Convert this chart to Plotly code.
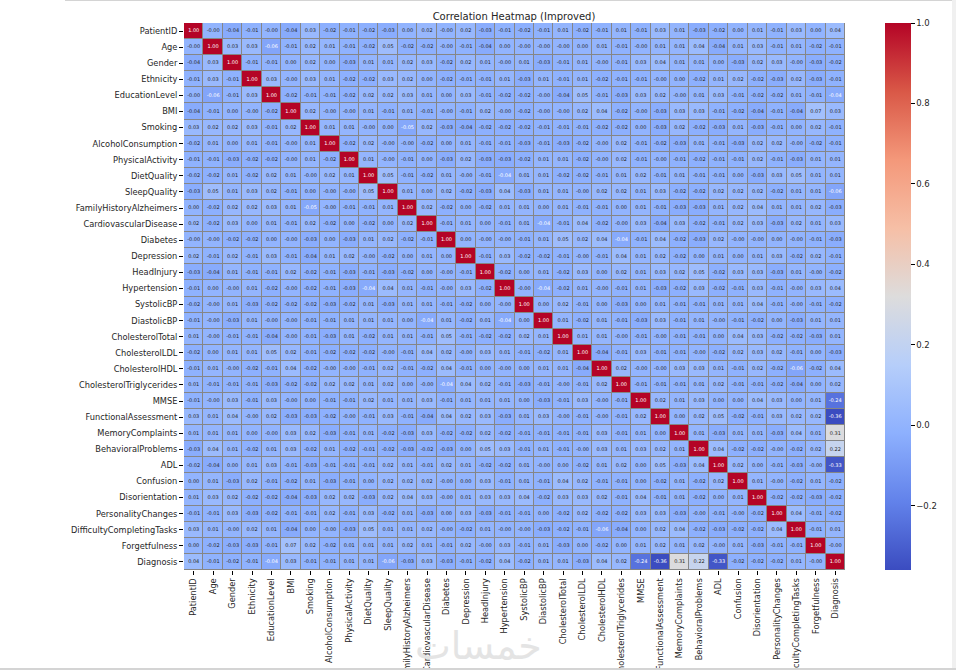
import plotly.graph_objects as go

labels = ["PatientID", "Age", "Gender", "Ethnicity", "EducationLevel", "BMI", "Smoking",
          "AlcoholConsumption", "PhysicalActivity", "DietQuality", "SleepQuality",
          "FamilyHistoryAlzheimers", "CardiovascularDisease", "Diabetes", "Depression",
          "HeadInjury", "Hypertension", "SystolicBP", "DiastolicBP", "CholesterolTotal",
          "CholesterolLDL", "CholesterolHDL", "CholesterolTriglycerides", "MMSE",
          "FunctionalAssessment", "MemoryComplaints", "BehavioralProblems", "ADL", "Confusion",
          "Disorientation", "PersonalityChanges", "DifficultyCompletingTasks", "Forgetfulness",
          "Diagnosis"]

# Upper triangle of the correlation matrix: each row starts on its diagonal cell
r00 = [1.00,-0.00,-0.04,-0.01,-0.00,-0.04,0.03,-0.02,-0.01,-0.02,-0.03,0.00,0.02,-0.00,0.02,-0.03,-0.01,-0.02,-0.01,0.01,-0.02,-0.01,0.01,-0.01,0.03,0.01,-0.03,-0.02,0.00,0.01,-0.01,0.03,0.00,0.04]
r01 = [1.00,0.03,0.03,-0.06,-0.01,0.02,0.01,-0.01,-0.02,0.05,-0.02,-0.02,-0.00,-0.01,-0.04,0.00,-0.00,-0.00,-0.00,0.00,0.01,-0.01,-0.00,0.01,0.01,0.04,-0.04,0.01,0.03,-0.01,0.01,-0.02,-0.01]
r02 = [1.00,-0.01,-0.01,0.00,0.02,0.00,-0.03,0.01,0.01,0.02,0.03,-0.02,0.02,0.01,-0.00,0.01,-0.03,-0.01,0.01,-0.00,-0.01,0.03,0.04,0.01,0.01,0.00,-0.03,0.02,0.03,-0.00,-0.03,-0.02]
r03 = [1.00,0.03,-0.00,0.03,0.01,-0.02,-0.02,0.03,0.02,0.00,-0.02,-0.01,-0.01,0.01,-0.03,0.01,-0.01,0.01,-0.02,-0.01,-0.01,-0.00,0.00,-0.02,0.01,0.02,-0.02,-0.03,0.02,-0.03,-0.01]
r04 = [1.00,-0.02,-0.01,-0.01,-0.02,0.02,0.02,0.03,0.01,0.00,0.03,-0.01,-0.02,-0.02,-0.00,-0.04,0.05,-0.01,-0.03,0.03,0.02,-0.00,0.01,0.03,-0.01,-0.02,-0.02,0.01,-0.01,-0.044]
r05 = [1.00,0.02,-0.00,-0.00,0.01,-0.01,0.01,-0.01,-0.00,-0.01,0.02,-0.00,-0.02,-0.00,-0.00,0.02,0.04,-0.02,-0.00,-0.03,0.03,0.03,-0.01,-0.02,-0.04,-0.01,-0.04,0.07,0.03]
r06 = [1.00,0.01,0.01,-0.00,0.00,-0.05,0.02,-0.03,-0.04,-0.02,-0.02,-0.02,-0.01,-0.01,-0.01,-0.02,-0.02,0.00,-0.03,0.02,-0.02,-0.03,0.01,-0.03,-0.01,0.00,0.02,-0.01]
r07 = [1.00,-0.02,0.02,-0.00,-0.00,-0.02,0.00,0.01,-0.01,-0.01,-0.03,-0.01,-0.03,-0.02,-0.00,0.02,-0.01,-0.02,-0.03,0.01,-0.01,-0.03,0.02,0.02,-0.00,-0.02,-0.01]
r08 = [1.00,0.01,-0.00,-0.01,0.00,-0.03,0.02,-0.03,-0.03,-0.02,0.01,0.01,-0.02,-0.00,0.02,-0.01,-0.00,-0.01,-0.02,-0.01,-0.01,0.02,-0.01,-0.03,0.01,0.01]
r09 = [1.00,0.05,-0.01,-0.02,0.01,-0.00,-0.01,-0.044,0.01,0.01,-0.02,-0.02,-0.01,0.01,0.02,-0.01,0.01,-0.01,-0.01,0.00,-0.03,0.03,0.05,0.01,0.01]
r10 = [1.00,0.01,0.00,0.02,-0.02,-0.03,0.04,-0.03,0.01,0.01,-0.00,0.02,0.02,0.01,0.03,-0.02,-0.02,0.02,0.02,0.02,-0.02,0.01,0.01,-0.06]
r11 = [1.00,0.02,-0.02,0.00,-0.02,0.01,0.01,0.00,0.01,-0.01,-0.01,0.00,0.01,-0.01,-0.03,-0.03,0.01,0.02,0.04,0.01,0.01,0.02,-0.03]
r12 = [1.00,-0.01,0.01,0.00,-0.01,0.01,-0.044,-0.01,0.04,-0.02,-0.00,0.03,-0.04,0.03,-0.02,-0.01,0.02,0.03,-0.03,0.02,0.01,0.03]
r13 = [1.00,0.00,-0.00,-0.00,-0.01,0.01,0.05,0.02,0.04,-0.044,-0.01,0.04,-0.02,-0.03,0.02,-0.00,-0.00,0.00,-0.00,-0.01,-0.03]
r14 = [1.00,-0.01,0.03,-0.02,-0.02,-0.01,-0.00,-0.01,0.04,0.01,0.02,-0.02,0.00,0.01,0.00,0.01,0.03,-0.02,0.02,-0.01]
r15 = [1.00,-0.02,0.00,0.01,-0.02,0.03,0.00,0.02,0.01,0.03,0.02,0.05,-0.02,0.03,0.03,-0.03,0.01,-0.00,-0.02]
r16 = [1.00,-0.00,-0.044,-0.02,0.01,-0.00,-0.01,0.01,-0.03,-0.02,0.03,-0.02,-0.01,0.03,-0.01,-0.00,0.03,0.04]
r17 = [1.00,0.00,0.02,-0.01,0.00,-0.03,0.00,0.01,-0.01,-0.01,0.01,0.01,0.04,-0.01,-0.00,-0.01,-0.02]
r18 = [1.00,0.01,-0.02,0.01,-0.01,-0.03,0.03,-0.01,0.01,-0.00,-0.01,-0.02,0.00,-0.03,0.01,0.01]
r19 = [1.00,0.01,0.01,-0.00,-0.01,-0.00,-0.01,-0.01,0.00,0.04,0.03,-0.02,-0.02,-0.03,0.01]
r20 = [1.00,-0.04,-0.01,0.03,-0.01,-0.01,-0.00,-0.02,0.02,0.03,0.02,-0.01,0.00,-0.03]
r21 = [1.00,0.02,-0.00,-0.00,0.03,0.03,0.01,-0.01,0.02,-0.02,-0.06,-0.02,0.04]
r22 = [1.00,-0.01,-0.01,-0.01,0.01,0.02,-0.01,-0.01,-0.02,-0.04,0.00,0.02]
r23 = [1.00,0.02,0.01,0.03,0.00,0.00,0.04,0.03,0.00,0.01,-0.24]
r24 = [1.00,0.00,0.02,0.05,-0.02,-0.01,0.03,0.02,0.02,-0.36]
r25 = [1.00,0.01,-0.03,0.01,0.01,-0.03,0.04,0.01,0.31]
r26 = [1.00,0.04,-0.02,-0.02,-0.00,-0.02,0.02,0.22]
r27 = [1.00,0.02,0.00,-0.01,-0.03,-0.00,-0.33]
r28 = [1.00,0.01,-0.00,-0.02,0.01,-0.02]
r29 = [1.00,-0.02,-0.02,-0.03,-0.02]
r30 = [1.00,0.04,-0.01,-0.02]
r31 = [1.00,-0.01,0.01]
r32 = [1.00,-0.00]
r33 = [1.00]
upper = [r00,r01,r02,r03,r04,r05,r06,r07,r08,r09,r10,r11,r12,r13,r14,r15,r16,r17,r18,r19,r20,r21,r22,r23,r24,r25,r26,r27,r28,r29,r30,r31,r32,r33]

n = len(labels)
z = [[0.0] * n for _ in range(n)]
for i, row in enumerate(upper):
    assert len(row) == n - i, (i, len(row))
    for k, v in enumerate(row):
        z[i][i + k] = v
        z[i + k][i] = v

coolwarm = [[0.0, "#3b4cc0"], [0.125, "#6282ea"], [0.25, "#8db0fe"], [0.375, "#b6cefa"],
            [0.5, "#dddcdc"], [0.625, "#f6bfa6"], [0.75, "#f4987a"], [0.875, "#d95847"],
            [1.0, "#b40426"]]
GRID = "#868686"

tx, ty, tt, tc = [], [], [], []
for i in range(n):
    for j in range(n):
        v = z[i][j]
        tx.append(labels[j])
        ty.append(labels[i])
        tt.append(f"{v:.2f}")
        tc.append("#ffffff" if (v <= -0.043 or v > 0.7) else "#262626")

fig = go.Figure()
fig.add_trace(go.Heatmap(
    z=z, x=labels, y=labels, zmin=-0.36, zmax=1.0, colorscale=coolwarm, xgap=1, ygap=1,
    hoverongaps=False,
    colorbar=dict(x=1.0605, xanchor="left", xpad=0, ypad=0, y=0, yanchor="bottom", len=1,
                  thickness=26, outlinewidth=0, tickmode="array",
                  tickvals=[-0.2, 0.0, 0.2, 0.4, 0.6, 0.8, 1.0],
                  ticktext=["\u22120.2", "0.0", "0.2", "0.4", "0.6", "0.8", "1.0"],
                  ticks="outside", ticklen=4, tickwidth=1, tickcolor="#000000",
                  tickfont=dict(family="DejaVu Sans", size=8.5, color="#262626")),
))
fig.add_trace(go.Scatter(x=tx, y=ty, text=tt, mode="text", hoverinfo="skip", showlegend=False,
                         textfont=dict(family="DejaVu Sans", size=5, color=tc)))

axis = dict(tickmode="array", tickvals=labels, ticktext=labels, ticks="outside", ticklen=4,
            tickwidth=1, tickcolor="#000000", showgrid=False, zeroline=False, automargin=False,
            showline=False, tickfont=dict(family="DejaVu Sans", size=8.25, color="#262626"))
fig.update_layout(
    width=956, height=670, autosize=False,
    margin=dict(l=184, r=111, t=23, b=100, pad=0),
    paper_bgcolor="#ffffff", plot_bgcolor=GRID,
    title=dict(text="Correlation Heatmap (Improved)", x=514 / 956, xanchor="center",
               y=1 - 16 / 670, yanchor="middle",
               font=dict(family="DejaVu Sans", size=10, color="#262626")),
    xaxis=dict(axis, tickangle=-90, categoryorder="array", categoryarray=labels,
               range=[-0.5, n - 0.5]),
    yaxis=dict(axis, categoryorder="array", categoryarray=labels, range=[n - 0.5, -0.5]),
    annotations=[dict(text="\u062e\u0645\u0633\u0627\u062a", xref="paper", yref="paper",
                      x=(478 - 184) / 661, y=-(646 - 570) / 547, xanchor="center", yanchor="middle",
                      showarrow=False, font=dict(family="DejaVu Sans", size=38, color="#e4e4e4"))],
    shapes=[dict(type="line", xref="paper", yref="paper", x0=-119 / 661, x1=772 / 661,
                 y0=1 + 22.5 / 547, y1=1 + 22.5 / 547, line=dict(color="#d4d4d4", width=1)),
            dict(type="rect", xref="paper", yref="paper", x0=(952 - 184) / 661, x1=772 / 661,
                 y0=-100 / 547, y1=1 + 23 / 547, line=dict(width=0), fillcolor="#f0f0f0"),
            dict(type="rect", xref="paper", yref="paper", x0=-184 / 661, x1=772 / 661,
                 y0=-100 / 547, y1=-98 / 547, line=dict(width=0), fillcolor="#d4d4d4")],
)
fig.write_html("out.html", config={"displayModeBar": False},
               post_script="document.body.style.margin='0';document.body.style.overflow='hidden';")
